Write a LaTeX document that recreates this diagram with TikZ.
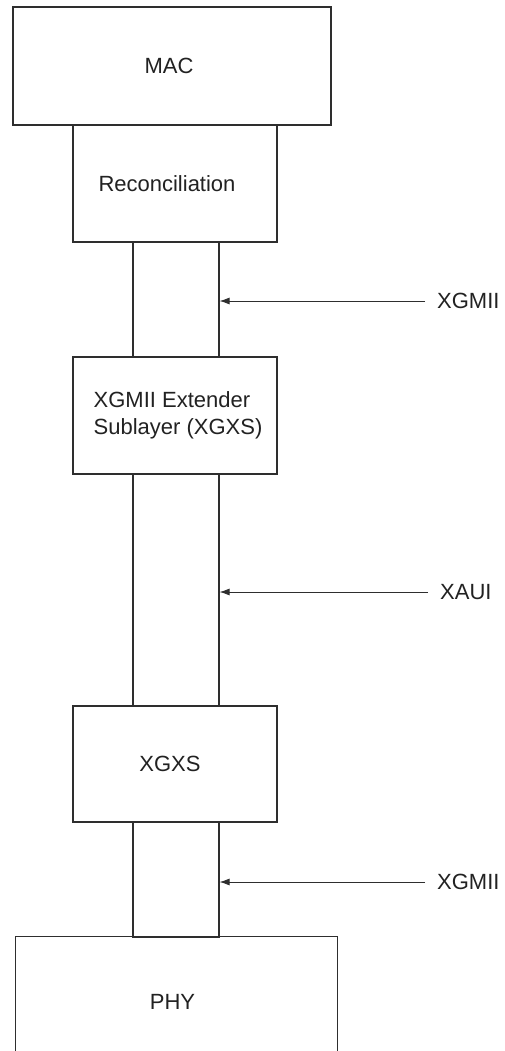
\documentclass[tikz,border=0pt]{standalone}
\usepackage{fontspec}
\setmainfont{Liberation Sans}
\usetikzlibrary{arrows.meta}
\definecolor{ln}{HTML}{2E2E2E}
\definecolor{tx}{HTML}{222222}
\begin{document}
\begin{tikzpicture}[x=1pt,y=-1pt,
  box/.style={draw=ln,line width=1.1pt,inner sep=0pt,text=tx,font=\fontsize{22}{27}\selectfont},
  txt/.style={inner sep=0pt,text=tx,font=\fontsize{22}{27}\selectfont},
  lbl/.style={anchor=west,inner sep=0pt,inner xsep=12pt,text=tx,font=\fontsize{22}{27}\selectfont},
  arr/.style={draw=ln,line width=0.9pt,-{Latex[length=10pt,width=7pt]}}]
\clip (0,0) rectangle (504,1051);
\fill[white] (0,0) rectangle (504,1051);
% boxes
\node[box,minimum width=318pt,minimum height=118pt] (mac) at (172,66) {};
\node[txt] (tmac) at ([xshift=-3pt]mac.center) {MAC};
\node[box,minimum width=204pt,minimum height=117pt] (rec) at (175,183.5) {};
\node[txt] (trec) at ([xshift=-8pt]rec.center) {Reconciliation};
\node[box,minimum width=86pt,minimum height=115pt] (c1) at (176,299.5) {};
\node[box,minimum width=204pt,minimum height=117pt] (xe) at (175,415.5) {};
\node[txt,align=left] (txe) at ([xshift=3pt]xe.center) {XGMII Extender\\Sublayer (XGXS)};
\node[box,minimum width=86pt,minimum height=232pt] (c2) at (176,590) {};
\node[box,minimum width=204pt,minimum height=116pt] (xg) at (175,764) {};
\node[txt] (txg) at ([xshift=-5pt]xg.center) {XGXS};
\node[box,minimum width=86pt,minimum height=115pt] (c3) at (176,879.5) {};
\node[box,draw=none,minimum width=321pt,minimum height=130pt] (phy) at (176.5,1002) {};
\node[txt] (tphy) at ([xshift=-4pt]phy.center) {PHY};
\draw[ln,line width=1.1pt] (phy.south west) -- (phy.north west) -- (phy.north east) -- (phy.south east);
% labels and arrows
\node[lbl] (l1) at (425,301) {XGMII};
\node[lbl] (l2) at (428,592) {XAUI};
\node[lbl] (l3) at (425,882) {XGMII};
\draw[arr] (l1.west) -- (c1.east |- l1.west);
\draw[arr] (l2.west) -- (c2.east |- l2.west);
\draw[arr] (l3.west) -- (c3.east |- l3.west);
\end{tikzpicture}
\end{document}
